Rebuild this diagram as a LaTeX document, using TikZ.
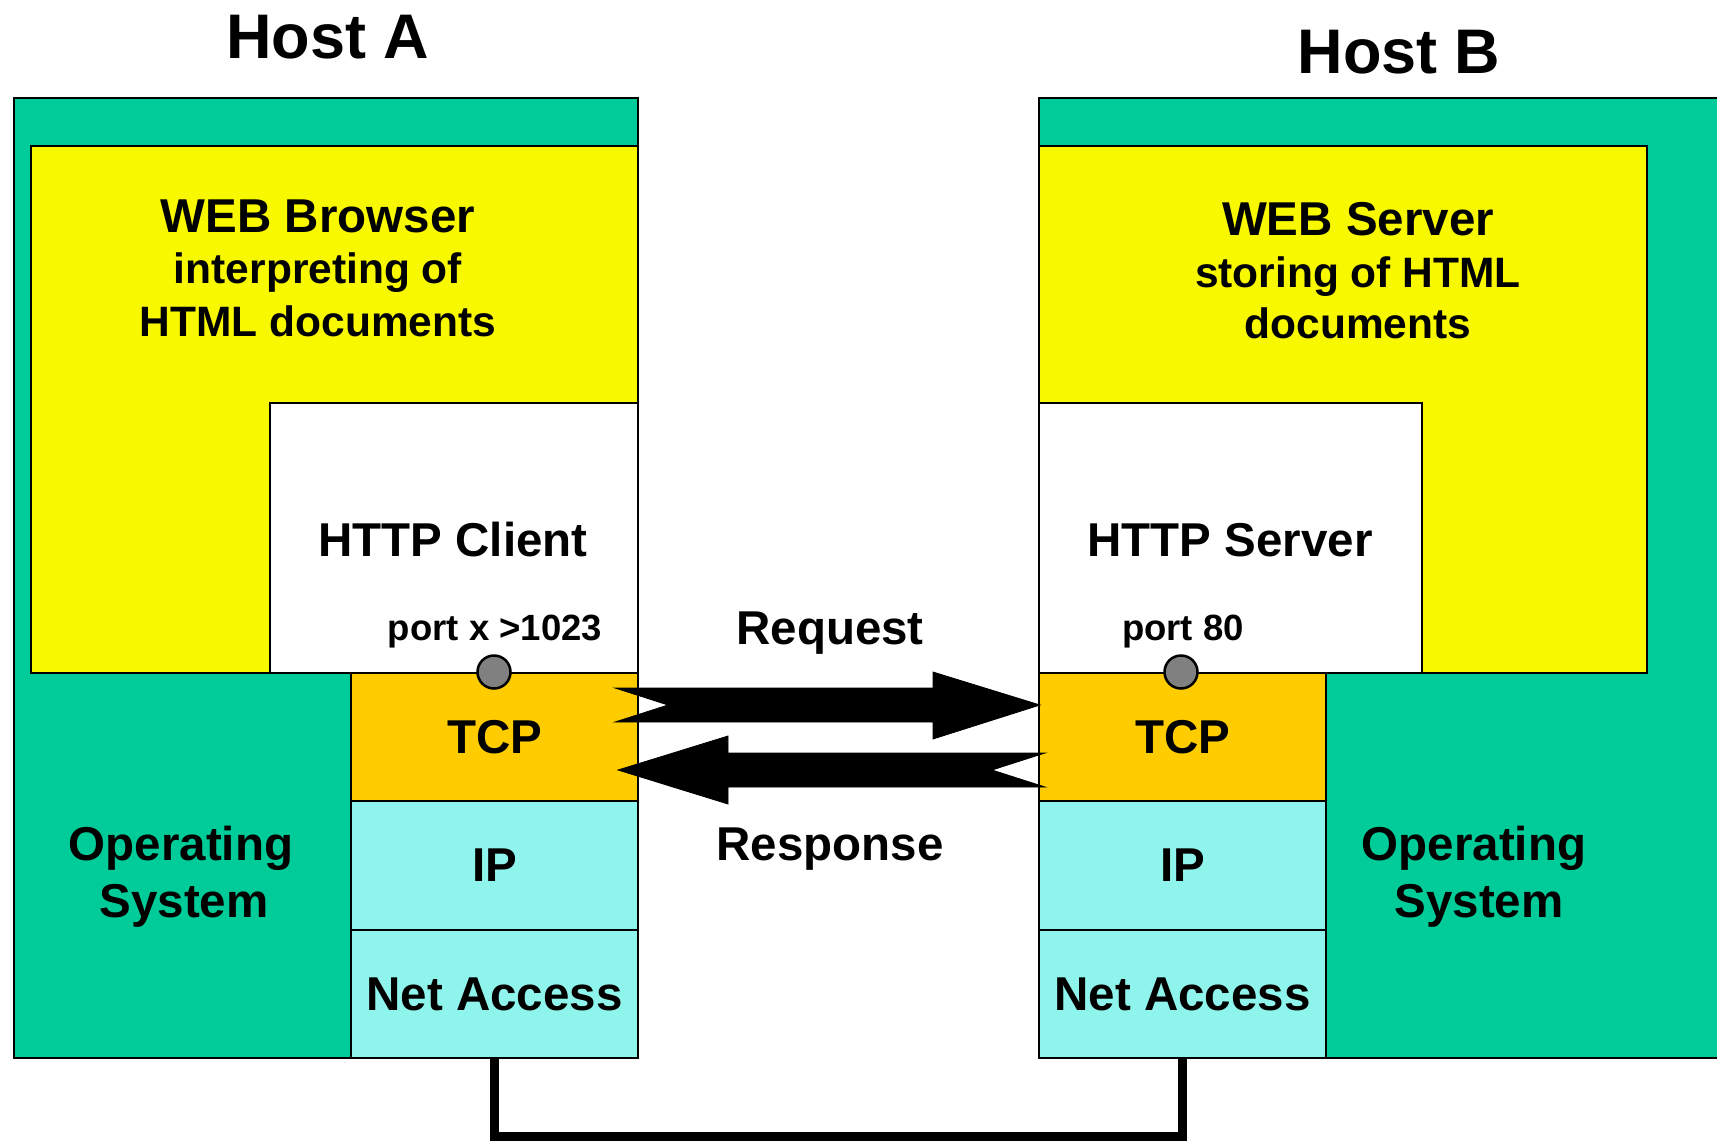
\documentclass[tikz,border=0pt]{standalone}
\usepackage{fontspec}
\setmainfont{Liberation Sans}
\newcommand\fsz[1]{\fontsize{#1pt}{#1pt}\selectfont\bfseries}
\definecolor{osgreen}{RGB}{0,204,153}
\definecolor{appyellow}{RGB}{248,248,0}
\definecolor{tcporange}{RGB}{255,204,0}
\definecolor{ipcyan}{RGB}{143,245,236}
\definecolor{portgray}{RGB}{128,128,128}
\begin{document}
\begin{tikzpicture}[x=1pt,y=-1pt,
  box/.style={draw=black,line width=2pt,inner sep=0pt,anchor=north west},
  layer/.style={box,font=\fsz{47.5}},
  title/.style={anchor=base,font=\fsz{63}},
  mainlbl/.style={anchor=base,font=\fsz{47.5}},
  sublbl/.style={anchor=base,font=\fsz{42.5}},
  portlbl/.style={anchor=base,font=\fsz{36.5}},
  port/.style={circle,draw=black,line width=2.5pt,fill=portgray,minimum size=33pt,inner sep=0pt},
  bigarrow/.style={fill=black,draw=black,line width=0.8pt}]
\useasboundingbox (0,0) rectangle (1717,1141);
\clip (0,0) rectangle (1717,1141);
% Host A
\node[box,fill=osgreen,minimum width=624pt,minimum height=960pt] (osA) at (13,97) {};
\node[box,fill=appyellow,minimum width=607pt,minimum height=527pt] (appA) at (30,145) {};
\node[box,fill=white,minimum width=368pt,minimum height=270pt] (httpA) at (269,402) {};
\node[layer,fill=tcporange,minimum width=287pt,minimum height=128pt] (tcpA) at (350,672) {TCP};
\node[layer,fill=ipcyan,minimum width=287pt,minimum height=129pt] (ipA) at (350,800) {IP};
\node[layer,fill=ipcyan,minimum width=287pt,minimum height=128pt] (netA) at (350,929) {Net Access};
% Host B
\node[box,fill=osgreen,minimum width=700pt,minimum height=960pt] (osB) at (1038,97) {};
\node[box,fill=appyellow,minimum width=608pt,minimum height=527pt] (appB) at (1038,145) {};
\node[box,fill=white,minimum width=383pt,minimum height=270pt] (httpB) at (1038,402) {};
\node[layer,fill=tcporange,minimum width=287pt,minimum height=128pt] (tcpB) at (1038,672) {TCP};
\node[layer,fill=ipcyan,minimum width=287pt,minimum height=129pt] (ipB) at (1038,800) {IP};
\node[layer,fill=ipcyan,minimum width=287pt,minimum height=128pt] (netB) at (1038,929) {Net Access};
% ports
\node[port] (portA) at (494,672) {};
\node[port] (portB) at (1181,672) {};
% titles and labels
\node[title] (hostA) at (328,58) {Host A};
\node[title] (hostB) at (1399,73) {Host B};
\node[mainlbl] (wb1) at (318,232) {WEB Browser};
\node[sublbl] (wb2) at (318,283) {interpreting of};
\node[sublbl] (wb3) at (318,336) {HTML documents};
\node[mainlbl] (ws1) at (1358,235) {WEB Server};
\node[sublbl] (ws2) at (1358,287) {storing of HTML};
\node[sublbl] (ws3) at (1358,338) {documents};
\node[mainlbl] (hc) at (453,556) {HTTP Client};
\node[mainlbl] (hs) at (1230,556) {HTTP Server};
\node[portlbl] (pA) at (495,640) {port x >1023};
\node[portlbl] (pB) at (1183,640) {port 80};
\node[mainlbl] (osA1) at (181,860) {Operating};
\node[mainlbl] (osA2) at (184,917) {System};
\node[mainlbl] (osB1) at (1474,860) {Operating};
\node[mainlbl] (osB2) at (1479,917) {System};
\node[mainlbl] (req) at (830,644) {Request};
\node[mainlbl] (resp) at (830,860) {Response};
% arrows
\draw[bigarrow] (615,688) -- (933,688) -- (933,672) -- (1040,705) -- (933,739) -- (933,722) -- (615,722) -- (668,705) -- cycle;
\draw[bigarrow] (1045,753) -- (728,753) -- (728,736) -- (618,770) -- (728,804) -- (728,787) -- (1045,787) -- (992,770) -- cycle;
% physical link
\draw[line width=9pt] (netA.south) -- ++(0,77) -| (netB.south);
\end{tikzpicture}
\end{document}
